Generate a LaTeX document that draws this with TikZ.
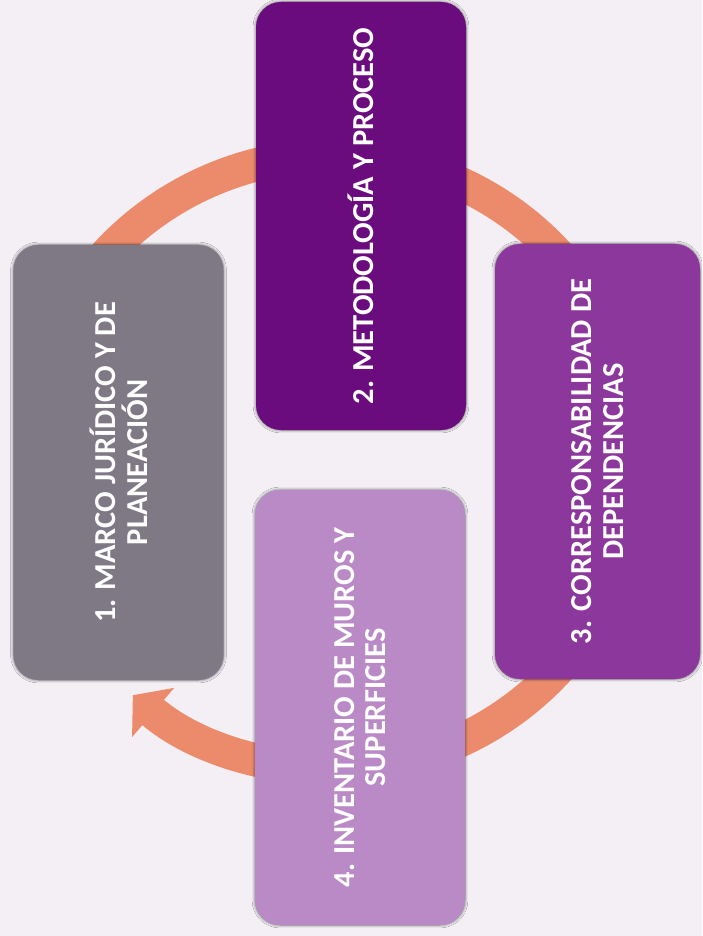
\documentclass[tikz,border=0pt]{standalone}
\usepackage{fontspec}
\setmainfont{Carlito}
\usetikzlibrary{positioning,arrows.meta,shadows.blur}
\definecolor{fondo}{HTML}{F3EFF5}
\definecolor{grigio}{HTML}{7E7985}
\definecolor{viola}{HTML}{6B0C7E}
\definecolor{violam}{HTML}{8C379B}
\definecolor{lilla}{HTML}{BA8AC7}
\definecolor{salmone}{HTML}{EC8A6C}

\begin{document}
\begin{tikzpicture}[x=0.03cm,y=0.03cm,
   tappa/.style={rotate=90,rounded corners=0.75cm,minimum width=13.05cm,minimum height=6.3cm,
     align=center,text=white,font=\fontsize{26}{27}\selectfont\bfseries,
     blur shadow={shadow xshift=0pt,shadow yshift=0pt,shadow blur radius=2.5pt,shadow opacity=60}},
   freccia/.style={draw=salmone,line width=1cm,-{Triangle[length=0.8cm,width=1.9cm]}}]

 %sfondo
 \fill[fondo] (0,0) rectangle (702,-936);
 \useasboundingbox (0,0) rectangle (702,-936);

 %ciclo (sotto le tappe)
 \coordinate (centro) at (332,-462);
 \draw[freccia] (centro) ++(155:9.2cm) arc[start angle=155,end angle=-130.5,radius=9.2cm];

 %le quattro tappe
 \node[tappa,fill=grigio] (marco) at (118.5,-462.5) {1. MARCO JURÍDICO Y DE\\ PLANEACIÓN};
 \node[tappa,fill=viola,minimum width=12.84cm] (metodo) at (361,-216) {2. METODOLOGÍA Y PROCESO};
 \node[tappa,fill=violam,minimum height=6.15cm] (corresp) at (597.5,-461.5) {3. CORRESPONSABILIDAD DE\\ DEPENDENCIAS};
 \node[tappa,fill=lilla] (inventario) at (360,-707.5) {4. INVENTARIO DE MUROS Y\\ SUPERFICIES};

\end{tikzpicture}
\end{document}
